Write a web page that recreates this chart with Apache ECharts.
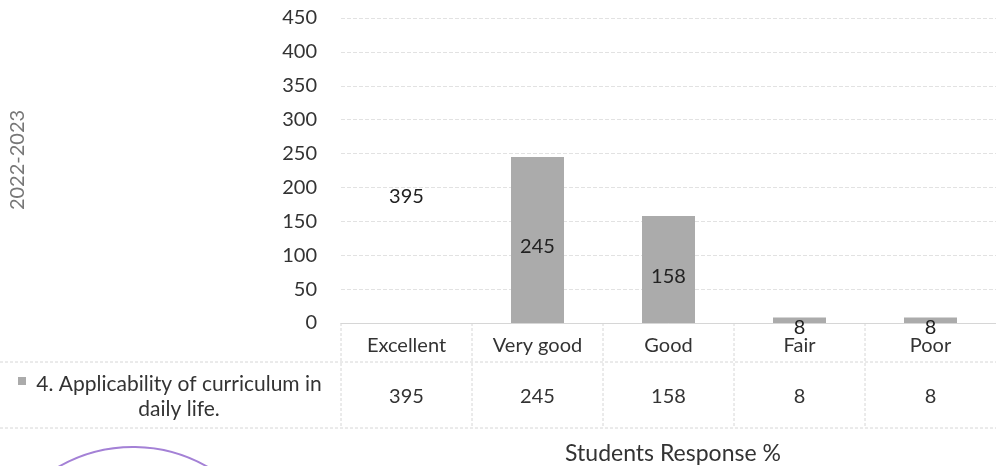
<!DOCTYPE html>
<html style="height: 100%">

<head>
    <meta charset="UTF-8" />
    <script type="text/javascript" src="https://cdn.jsdelivr.net/npm/echarts@6.0.0/dist/echarts.min.js"></script>
</head>

<body style="height: 100%; margin: 0; background: #fff">
    <div id="container" style="width: 996px; height: 466px"></div>
    <script>
        // chart values
        var categories = ['Excellent', 'Very good', 'Good', 'Fair', 'Poor'];
        var responses = [395, 245, 158, 8, 8];
        var seriesLines = ['4. Applicability of curriculum in', 'daily life.'];
        var yearLabel = '2022-2023';
        var xTitle = 'Students Response %';

        var font = 'Lato';
        var textColor = '#333';
        var lineColor = '#d6d6d6';

        var dom = document.getElementById("container");
        var chart = echarts.init(dom);

        // Excellent bar is not visible on the scan, only its label is
        var barData = responses.map(function (v, i) {
            return i === 0 ? { value: v, itemStyle: { color: 'rgba(0,0,0,0)' } } : v;
        });

        chart.setOption({
            animation: false,
            grid: { left: 341, width: 660, top: 18, bottom: 143 },
            xAxis: {
                type: 'category',
                data: categories,
                axisLine: { lineStyle: { color: lineColor } },
                axisTick: { show: false },
                axisLabel: { color: textColor, fontFamily: font, fontSize: 20, margin: 13 }
            },
            yAxis: {
                type: 'value',
                min: 0,
                max: 450,
                interval: 50,
                axisLine: { show: false },
                axisTick: { show: false },
                axisLabel: { color: textColor, fontFamily: font, fontSize: 20, margin: 24 },
                splitLine: { lineStyle: { color: '#e2e2e2', type: 'dashed' } }
            },
            series: [{
                type: 'bar',
                data: barData,
                barWidth: 53,
                itemStyle: { color: '#ababab' },
                label: {
                    show: true,
                    position: 'inside',
                    offset: [0, 7],
                    color: '#222',
                    fontFamily: font,
                    fontSize: 20
                }
            }]
        });

        // data table under the axis
        var y0 = chart.convertToPixel({ yAxisIndex: 0 }, 0);
        var rowSplit = 362, tableBottom = 428, valueY = 397;
        var halfCol = (chart.convertToPixel({ xAxisIndex: 0 }, categories[1]) -
            chart.convertToPixel({ xAxisIndex: 0 }, categories[0])) / 2;
        var g = [];
        var hline = function (y) {
            g.push({ type: 'line', shape: { x1: 0, y1: y, x2: 996, y2: y },
                style: { stroke: lineColor, lineWidth: 1, lineDash: [3, 2] } });
        };
        hline(rowSplit);
        hline(tableBottom);
        categories.forEach(function (c, i) {
            var cx = chart.convertToPixel({ xAxisIndex: 0 }, c);
            g.push({ type: 'line', shape: { x1: cx - halfCol, y1: y0, x2: cx - halfCol, y2: tableBottom },
                style: { stroke: lineColor, lineWidth: 1, lineDash: [3, 2] } });
            g.push({ type: 'text', x: cx, y: valueY,
                style: { text: String(responses[i]), fill: textColor, font: '20px ' + font,
                    align: 'center', verticalAlign: 'middle' } });
        });
        // legend key + series name
        g.push({ type: 'rect', shape: { x: 18, y: 377, width: 8, height: 8 }, style: { fill: '#ababab' } });
        g.push({ type: 'text', x: 179, y: 384,
            style: { text: seriesLines[0], fill: textColor, font: '21px ' + font, align: 'center', verticalAlign: 'middle' } });
        g.push({ type: 'text', x: 179, y: 409,
            style: { text: seriesLines[1], fill: textColor, font: '21px ' + font, align: 'center', verticalAlign: 'middle' } });
        // axis titles
        g.push({ type: 'text', x: 18, y: 160, rotation: Math.PI / 2,
            style: { text: yearLabel, fill: '#777', font: '20px ' + font, align: 'center', verticalAlign: 'middle' } });
        g.push({ type: 'text', x: 673, y: 454,
            style: { text: xTitle, fill: textColor, font: '23px ' + font, align: 'center', verticalAlign: 'middle' } });
        // edge of the college stamp at the bottom left
        g.push({ type: 'arc', shape: { cx: 133, cy: 597, r: 150, startAngle: Math.PI * 1.33, endAngle: Math.PI * 1.68 },
            style: { stroke: '#a481d6', lineWidth: 2, fill: null } });
        chart.setOption({ graphic: g });
    </script>
</body>

</html>
